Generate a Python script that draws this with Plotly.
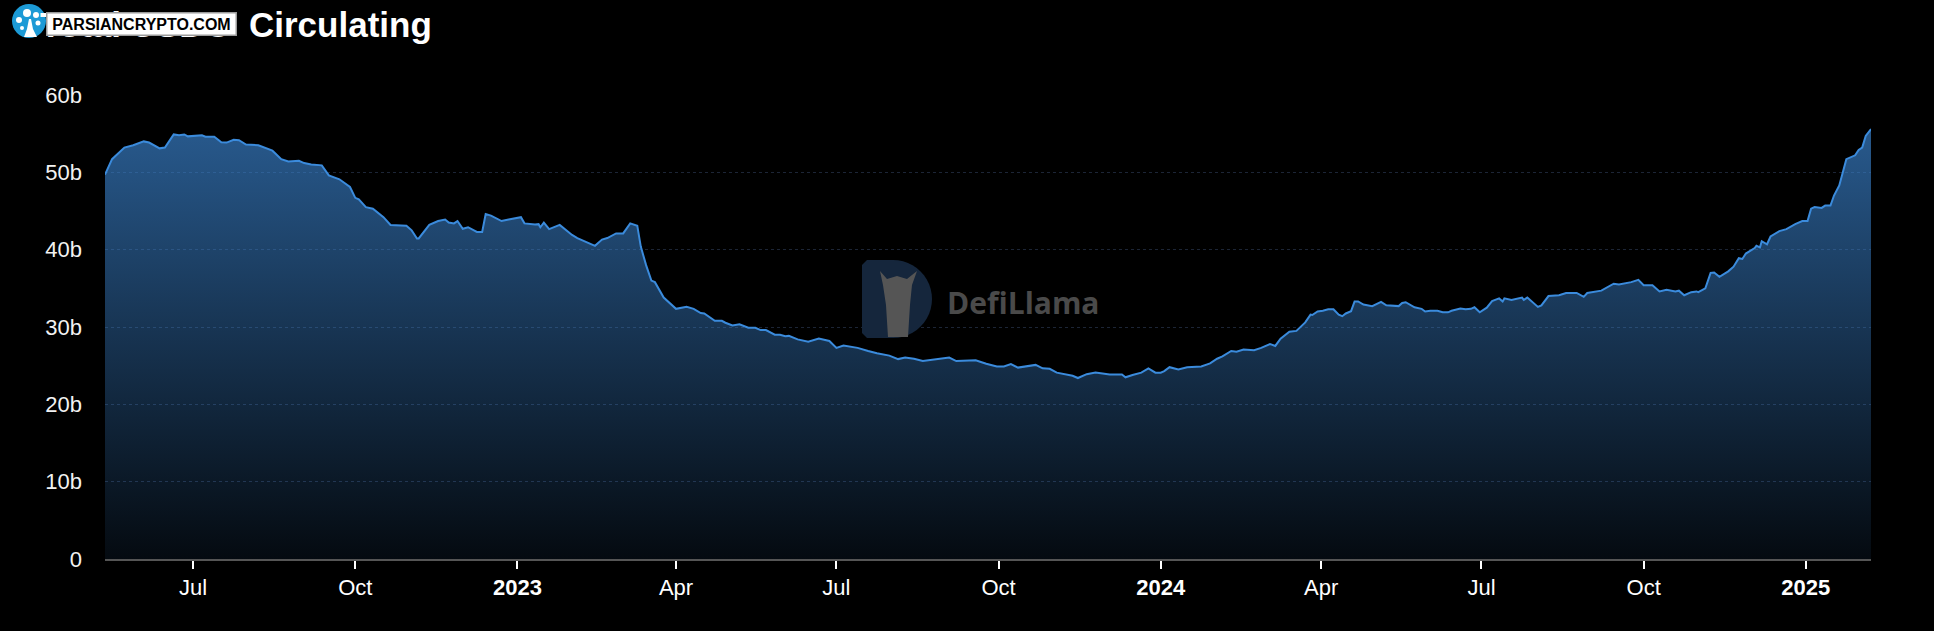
import math
import pandas as pd
import plotly.graph_objects as go

# ---------------- data ----------------
BASE_DATE = "2022-07-01"

# days relative to BASE_DATE
day_offsets = [
    -50, -46, -39, -34, -28, -25, -19, -16, -11, -8, -5, -3, 5, 7, 12, 16, 19, 23, 26, 30,
    37, 40, 45, 50, 54, 60, 63, 67, 73, 77, 83, 89, 92, 94, 98, 102, 108, 112, 121, 124,
    127, 128, 131, 134, 139, 143, 145, 148, 150, 153, 156, 161, 164, 166, 169, 175, 179, 181, 186, 188,
    194, 196, 197, 199, 202, 208, 215, 218, 223, 228, 232, 235, 240, 244, 248, 252, 254, 257, 260, 262,
    267, 274, 280, 284, 288, 290, 296, 300, 302, 306, 310, 315, 319, 322, 325, 330, 333, 336, 338, 343,
    349, 352, 355, 361, 365, 369, 377, 383, 388, 395, 400, 404, 409, 414, 420, 429, 433, 444, 450, 456,
    460, 464, 468, 473, 478, 482, 486, 490, 495, 499, 502, 507, 512, 520, 527, 529, 533, 538, 542, 546,
    549, 551, 554, 559, 564, 570, 572, 577, 581, 584, 589, 592, 596, 602, 606, 611, 614, 617, 622, 626,
    631, 634, 635, 638, 641, 644, 647, 650, 652, 654, 657, 659, 661, 664, 669, 674, 677, 684, 686, 688,
    693, 697, 699, 702, 706, 709, 712, 714, 719, 722, 725, 727, 730, 734, 737, 741, 743, 744, 748, 754,
    755, 757, 763, 765, 769, 775, 779, 785, 789, 791, 796, 799, 806, 809, 816, 820, 823, 828, 832, 836,
    841, 843, 846, 850, 853, 854, 858, 861, 863, 866, 871, 874, 877, 879, 881, 886, 887, 889, 890, 893,
    895, 900, 904, 909, 913, 916, 918, 920, 924, 926, 929, 931, 934, 936, 938, 943, 945, 947, 949, 952,
]

# circulating supply, billions of USD
usdc_billions = [
    49.7, 51.7, 53.2, 53.5, 54.0, 53.85, 53.1, 53.2, 54.9, 54.8, 54.9, 54.65, 54.8, 54.6, 54.6, 53.9, 53.85, 54.2, 54.15, 53.6,
    53.5, 53.2, 52.8, 51.7, 51.4, 51.5, 51.2, 51.0, 50.9, 49.6, 49.1, 48.1, 46.7, 46.5, 45.5, 45.3, 44.2, 43.2, 43.1, 42.5,
    41.45, 41.45, 42.4, 43.2, 43.7, 43.9, 43.5, 43.4, 43.7, 42.7, 42.9, 42.3, 42.3, 44.6, 44.4, 43.7, 43.9, 44.0, 44.2, 43.4,
    43.25, 43.3, 42.9, 43.5, 42.65, 43.2, 41.9, 41.5, 41.0, 40.5, 41.3, 41.5, 42.1, 42.1, 43.4, 43.1, 40.4, 38.0, 36.0, 35.8,
    33.8, 32.35, 32.6, 32.35, 31.8, 31.75, 30.8, 30.8, 30.55, 30.2, 30.35, 29.9, 29.9, 29.6, 29.6, 29.0, 29.0, 28.8, 28.85, 28.4,
    28.1, 28.3, 28.5, 28.2, 27.3, 27.6, 27.3, 26.9, 26.6, 26.3, 25.85, 26.05, 25.9, 25.6, 25.8, 26.05, 25.6, 25.7, 25.25, 24.9,
    24.9, 25.2, 24.75, 24.9, 25.1, 24.65, 24.6, 24.1, 23.85, 23.7, 23.4, 23.9, 24.1, 23.85, 23.85, 23.5, 23.8, 24.1, 24.65, 24.1,
    24.1, 24.3, 24.8, 24.5, 24.8, 24.9, 24.9, 25.3, 25.9, 26.2, 26.9, 26.8, 27.1, 27.0, 27.3, 27.8, 27.55, 28.5, 29.4, 29.5,
    30.6, 31.6, 31.55, 32.0, 32.1, 32.3, 32.3, 31.6, 31.4, 31.75, 32.05, 33.3, 33.3, 32.9, 32.7, 33.25, 32.8, 32.7, 33.1, 33.2,
    32.55, 32.35, 32.0, 32.1, 32.1, 31.9, 31.9, 32.1, 32.4, 32.3, 32.35, 32.55, 31.9, 32.5, 33.35, 33.7, 33.3, 33.7, 33.5, 33.8,
    33.5, 33.8, 32.6, 32.8, 34.0, 34.1, 34.4, 34.4, 33.9, 34.4, 34.6, 34.7, 35.6, 35.5, 35.8, 36.1, 35.4, 35.4, 34.6, 34.8,
    34.6, 34.7, 34.1, 34.5, 34.6, 34.5, 35.0, 37.0, 37.05, 36.5, 37.2, 37.8, 38.9, 38.8, 39.5, 40.2, 40.5, 40.3, 41.1, 40.7,
    41.7, 42.4, 42.65, 43.3, 43.7, 43.7, 45.3, 45.5, 45.4, 45.7, 45.7, 47.0, 48.3, 50.0, 51.7, 52.2, 52.9, 53.2, 54.7, 55.6,
]

x_tick_dates = ["2022-07-01", "2022-10-01", "2023-01-01", "2023-04-01", "2023-07-01", "2023-10-01",
                "2024-01-01", "2024-04-01", "2024-07-01", "2024-10-01", "2025-01-01"]
x_tick_labels = ["Jul", "Oct", "<b>2023</b>", "Apr", "Jul", "Oct", "<b>2024</b>", "Apr", "Jul", "Oct", "<b>2025</b>"]

y_tick_billions = [0, 10, 20, 30, 40, 50, 60]
y_tick_labels = ["0", "10b", "20b", "30b", "40b", "50b", "60b"]

TITLE_HIDDEN = "Total USDC"
TITLE_VISIBLE = "Circulating"
WATERMARK = "DefiLlama"
LOGO_TEXT = "PARSIANCRYPTO.COM"

# ---------------- figure ----------------
W, H = 1934, 631
ML, MR, MT, MB = 105, 63, 95, 72
PW, PH = W - ML - MR, H - MT - MB


def px(x):
    return (x - ML) / PW


def py(y):
    return (H - MB - y) / PH


dates = pd.Timestamp(BASE_DATE) + pd.to_timedelta(day_offsets, unit="D")
values = [v * 1e9 for v in usdc_billions]

fig = go.Figure()
fig.add_trace(go.Scatter(
    x=dates, y=values, mode="lines",
    line=dict(color="#3b8bdc", width=2),
    fill="tozeroy",
    fillgradient=dict(
        type="vertical",
        colorscale=[[0, "rgba(58,130,205,0.08)"], [1, "rgba(58,130,205,0.68)"]],
        start=0, stop=55e9,
    ),
    hoverinfo="skip",
    showlegend=False,
))

font_main = "Liberation Sans, Arial, Helvetica, sans-serif"

fig.update_layout(
    width=W, height=H,
    margin=dict(l=ML, r=MR, t=MT, b=MB, pad=0),
    paper_bgcolor="#000000",
    plot_bgcolor="#000000",
    font=dict(family=font_main, color="#ffffff", size=22),
    xaxis=dict(
        type="date",
        range=[dates[0], dates[-1]],
        tickvals=x_tick_dates,
        ticktext=x_tick_labels,
        showgrid=False,
        zeroline=False,
        showline=True, linecolor="#555555", linewidth=2,
        ticks="outside", ticklen=8, tickwidth=1.5, tickcolor="#ffffff",
        tickfont=dict(size=22, color="#ffffff"),
        ticklabelstandoff=0,
    ),
    yaxis=dict(
        range=[0, 60e9],
        tickvals=[v * 1e9 for v in y_tick_billions],
        ticktext=y_tick_labels,
        showgrid=True, gridcolor="#1c2536", gridwidth=1, griddash="dot",
        zeroline=False, showline=False,
        ticks="",
        tickfont=dict(size=22, color="#f2f2f2"),
        ticklabelstandoff=22,
    ),
)

annotations = []
# title (first words covered by the site logo, as in the reference)
annotations.append(dict(
    text=TITLE_HIDDEN, xref="paper", yref="paper", x=px(232), y=py(24),
    xanchor="right", yanchor="middle", showarrow=False,
    font=dict(family=font_main, size=35, color="#ffffff", weight="bold"),
))
annotations.append(dict(
    text=TITLE_VISIBLE, xref="paper", yref="paper", x=px(247), y=py(24),
    xanchor="left", yanchor="middle", showarrow=False,
    font=dict(family=font_main, size=35, color="#ffffff", weight="bold"),
))
# logo pill (covers the first title words)
annotations.append(dict(
    text=LOGO_TEXT, xref="paper", yref="paper", x=px(141), y=py(23.5),
    xanchor="center", yanchor="middle", showarrow=False,
    font=dict(family=font_main, size=16, color="#000000", weight="bold"),
    bgcolor="#ffffff", bordercolor="#9a9a9a", borderwidth=1.5, borderpad=1,
    width=186, height=19,
))
# watermark text
annotations.append(dict(
    text=WATERMARK, xref="paper", yref="paper", x=px(945), y=py(302),
    xanchor="left", yanchor="middle", showarrow=False,
    font=dict(family="Open Sans, sans-serif", size=30, color="#4a4a4a", weight="bold"),
))
fig.update_layout(annotations=annotations)


def poly(points):
    return "M " + " L ".join(f"{px(a):.5f},{py(b):.5f}" for a, b in points) + " Z"


shapes = []
# site logo disc with a small white tree
shapes.append(dict(type="circle", xref="paper", yref="paper",
                   x0=px(12), x1=px(46), y0=py(38), y1=py(4),
                   fillcolor="#1c9ad6", line=dict(width=0), layer="above"))
for (tx, ty, tr) in [(27, 13, 4), (36, 15, 3), (19, 20, 3), (38, 23, 2.5), (22, 28, 2)]:
    shapes.append(dict(type="circle", xref="paper", yref="paper",
                       x0=px(tx - tr), x1=px(tx + tr), y0=py(ty + tr), y1=py(ty - tr),
                       fillcolor="#ffffff", line=dict(width=0), layer="above"))
shapes.append(dict(type="path", xref="paper", yref="paper",
                   path=poly([(24, 37), (37, 37), (33, 29), (31, 19), (29, 19), (27, 29)]),
                   fillcolor="#ffffff", line=dict(width=0), layer="above"))

# watermark "D" emblem and llama silhouette
x0, x1, y0, y1 = 862, 932, 260, 338
r = (y1 - y0) / 2
cx = x1 - r
cy = (y0 + y1) / 2
pts = [(x0 + 5, y0), (cx, y0)]
for i in range(1, 24):
    a = -math.pi / 2 + math.pi * i / 24
    pts.append((cx + r * math.cos(a), cy + r * math.sin(a)))
pts += [(cx, y1), (x0 + 5, y1), (x0, y1 - 5), (x0, y0 + 5)]
shapes.append(dict(type="path", xref="paper", yref="paper", path=poly(pts),
                   fillcolor="#15263c", line=dict(width=0), layer="above"))
llama = [(880, 271), (887, 279), (897, 276), (907, 279), (917, 271), (912, 285), (910, 305),
         (908, 337), (888, 337), (886, 305), (883, 285)]
shapes.append(dict(type="path", xref="paper", yref="paper", path=poly(llama),
                   fillcolor="#555555", line=dict(width=0), layer="above"))
fig.update_layout(shapes=shapes)

fig.write_html("out.html")
